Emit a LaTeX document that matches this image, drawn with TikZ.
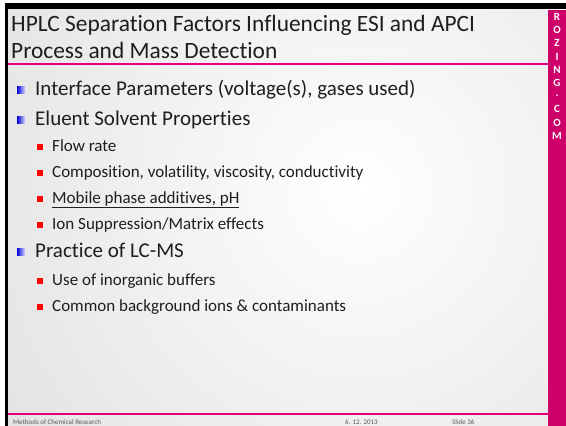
\documentclass[tikz,border=0pt]{standalone}
\usepackage{fontspec}
\setmainfont{Carlito}[Ligatures={NoCommon,NoContextual}]
\definecolor{brand}{RGB}{206,0,106}
\definecolor{rule}{RGB}{228,0,124}
\definecolor{ink}{RGB}{30,30,30}
\definecolor{foot}{RGB}{90,90,90}
\definecolor{bgedge}{RGB}{196,196,196}
\begin{document}
\begin{tikzpicture}[x=1pt,y=-1pt,
  lvlone/.style={anchor=base west,inner sep=0pt,text=ink,font=\fontsize{21}{21}\selectfont},
  lvltwo/.style={anchor=base west,inner sep=0pt,text=ink,font=\fontsize{17}{17}\selectfont},
  titletext/.style={anchor=base west,inner sep=0pt,text=ink,font=\fontsize{23.4}{23.4}\selectfont},
  foottext/.style={anchor=base west,inner sep=0pt,text=foot,font=\fontsize{7}{7}\selectfont},
  brandletter/.style={anchor=center,inner sep=0pt,text=white,font=\fontsize{11}{11}\selectfont\bfseries}]
\useasboundingbox (0,0) rectangle (566,426);
\fill[white] (0,0) rectangle (566,426);
% slide background with soft radial gradient
\begin{scope}
  \clip (7,9) rectangle (548,426);
  \shade[inner color=white,outer color=bgedge] (360,190) circle (900);
\end{scope}
% frame bars
\fill[black] (5,3) rectangle (566,9);
\fill[black] (5,3) rectangle (8,426);
\fill[brand] (548,10) rectangle (566,426);
% vertical brand text
\foreach \ch [count=\i from 0] in {R,O,Z,I,N,G,.,C,O,M}
  \node[brandletter] (b\i) at (557,{17+13.2*\i}) {\ch};
% title
\node[titletext] (t1) at (11,31) {HPLC Separation Factors Influencing ESI and APCI};
\node[titletext] (t2) at (11,58) {Process and Mass Detection};
\draw[rule,line width=2pt] (8,64) -- (548,64);
% first level items with blue gradient bullets
\foreach \yy/\nm/\txt in {95/ia/{Interface Parameters (voltage(s), gases used)},
                          125/ib/{Eluent Solvent Properties},
                          257/ic/{Practice of LC-MS}} {
  \shade[left color=blue!85!black,right color=blue!15] (17,\yy-9) rectangle (25,\yy-2);
  \node[lvlone] (\nm) at (35,\yy) {\txt};
}
% second level items with red bullets
\foreach \yy/\nm/\txt in {151/sa/{Flow rate},
                          177/sb/{Composition, volatility, viscosity, conductivity},
                          203/sc/{\underline{Mobile phase additives, pH}},
                          229/sd/{Ion Suppression/Matrix effects},
                          285/se/{Use of inorganic buffers},
                          311/sf/{Common background ions \& contaminants}} {
  \fill[red] (37,\yy-7) rectangle (43,\yy-1);
  \node[lvltwo] (\nm) at (52,\yy) {\txt};
}
% footer
\draw[rule,line width=1.2pt] (8,414) -- (548,414);
\node[foottext] (f1) at (13,424) {Methods of Chemical Research};
\node[foottext] (f2) at (345,424) {6. 12. 2013};
\node[foottext] (f3) at (452,424) {Slide 36};
\end{tikzpicture}
\end{document}
